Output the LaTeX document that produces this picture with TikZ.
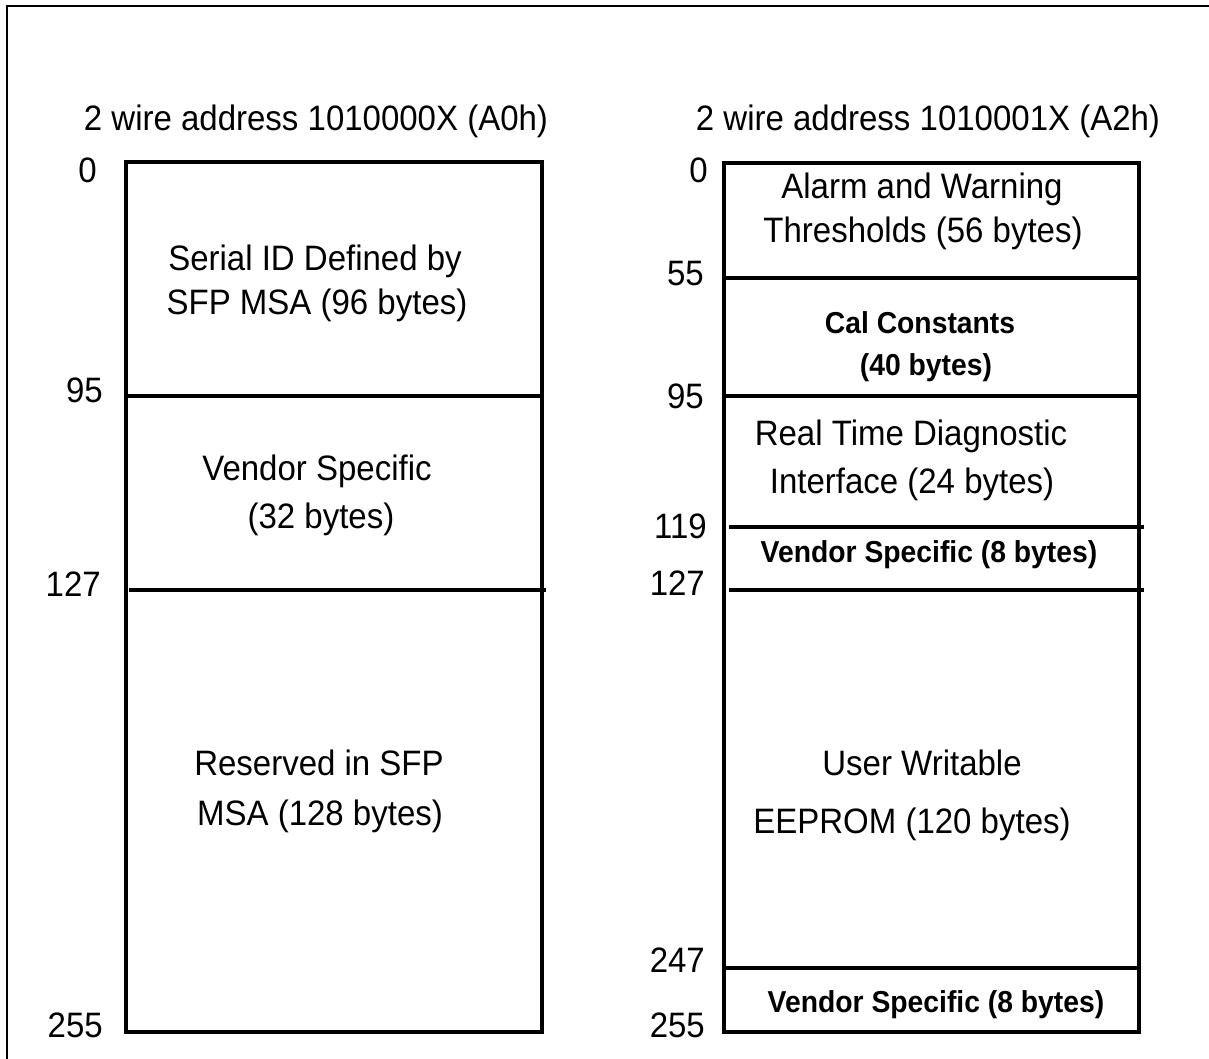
\documentclass[tikz,border=0pt]{standalone}
\usepackage{fontspec}
\setmainfont{Liberation Sans}
\newcommand{\vstretch}[1]{\scalebox{1}[1.07]{#1}}
\begin{document}
\begin{tikzpicture}[x=1pt,y=-1pt,
  txt/.style={anchor=base,inner sep=0pt,font=\fontsize{33}{33}\selectfont},
  btxt/.style={anchor=base,inner sep=0pt,font=\fontsize{28.3}{28}\selectfont\bfseries},
  num/.style={anchor=base east,inner sep=0pt,font=\fontsize{33}{33}\selectfont},
  boxline/.style={line width=3.4pt},
  thickline/.style={line width=4.4pt},
  frameline/.style={line width=1.8pt}]
\useasboundingbox (0,0) rectangle (1209,1059);
% outer frame (cropped at right and bottom)
\draw[frameline] (7,1059) -- (7,6) -- (1209,6);

% headers
\node[txt] (hA0) at (316,131) {\vstretch{2 wire address 1010000X (A0h)}};
\node[txt] (hA2) at (928,131) {\vstretch{2 wire address 1010001X (A2h)}};

% left memory map
\draw[boxline] (126,162) rectangle (542,1032);
\draw[boxline] (126,396) -- (542,396);
\draw[boxline] (129,590) -- (546,590);

\node[num] (l0)   at (97,183)  {\vstretch{0}};
\node[num] (l95)  at (103,402) {\vstretch{95}};
\node[num] (l127) at (101,596) {\vstretch{127}};
\node[num] (l255) at (103,1037) {\vstretch{255}};

\node[txt] (serialA) at (315,270) {\vstretch{Serial ID Defined by}};
\node[txt] (serialB) at (317,314) {\vstretch{SFP MSA (96 bytes)}};
\node[txt] (vendA)   at (317,480) {\vstretch{Vendor Specific}};
\node[txt] (vendB)   at (321,528) {\vstretch{(32 bytes)}};
\node[txt] (resA)    at (319,775) {\vstretch{Reserved in SFP}};
\node[txt] (resB)    at (320,825) {\vstretch{MSA (128 bytes)}};

% right memory map
\draw[boxline] (724,163) rectangle (1139,1032);
\draw[thickline] (724,278) -- (1139,278);
\draw[boxline] (724,396) -- (1139,396);
\draw[thickline] (729,527) -- (1144,527);
\draw[boxline] (729,590) -- (1144,590);
\draw[thickline] (724,968) -- (1139,968);

\node[num] (r0)   at (708,183)  {\vstretch{0}};
\node[num] (r55)  at (704,285)  {\vstretch{55}};
\node[num] (r95)  at (704,408)  {\vstretch{95}};
\node[num] (r119) at (707,538)  {\vstretch{119}};
\node[num] (r127) at (705,595)  {\vstretch{127}};
\node[num] (r247) at (705,972)  {\vstretch{247}};
\node[num] (r255) at (705,1037) {\vstretch{255}};

\node[txt]  (alarmA) at (922,199) {\vstretch{Alarm and Warning}};
\node[txt]  (alarmB) at (923,243) {\vstretch{Thresholds (56 bytes)}};
\node[btxt] (calA)   at (920,333) {\vstretch{Cal Constants}};
\node[btxt] (calB)   at (926,375) {\vstretch{(40 bytes)}};
\node[txt]  (rtdA)   at (911,445) {\vstretch{Real Time Diagnostic}};
\node[txt]  (rtdB)   at (912,493) {\vstretch{Interface (24 bytes)}};
\node[btxt] (vs8a)   at (929,562) {\vstretch{Vendor Specific (8 bytes)}};
\node[txt]  (userA)  at (922,775) {\vstretch{User Writable}};
\node[txt]  (userB)  at (912,833) {\vstretch{EEPROM (120 bytes)}};
\node[btxt] (vs8b)   at (936,1012) {\vstretch{Vendor Specific (8 bytes)}};
\end{tikzpicture}
\end{document}
